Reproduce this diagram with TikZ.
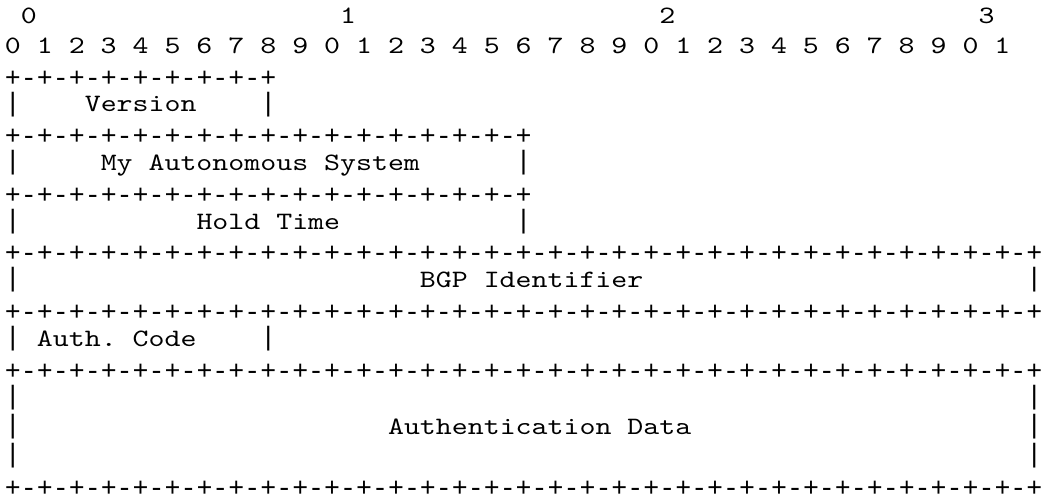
\documentclass[tikz,border=0pt]{standalone}
\usepackage{fontspec}
\setmonofont{Liberation Mono}
\newfontfamily\courlike{lmmono10-regular.otf}[FakeStretch=1.216]
\newcommand\gline[5][txt]{\node[#1] (#2) at ({5+15.96*#3},{24+29.3*(#4-1)}) {#5};}
\begin{document}
\begin{tikzpicture}[x=1pt,y=-1pt,
  base/.style={anchor=base west, inner sep=0pt, outer sep=0pt},
  txt/.style={base, font=\courlike\fontsize{25}{29}\selectfont},
  brd/.style={base, yshift=-3.5pt, font=\ttfamily\fontsize{26.6}{29}\selectfont},
  bar/.style={base, yshift=0.8pt, font=\ttfamily\fontsize{26.6}{29}\selectfont}]
\frenchspacing
\useasboundingbox (0,0) rectangle (1043,497);
% header
\gline{hA}{1}{1}{0}
\gline{hB}{21}{1}{1}
\gline{hC}{41}{1}{2}
\gline{hD}{61}{1}{3}
\gline{bits}{0}{2}{0 1 2 3 4 5 6 7 8 9 0 1 2 3 4 5 6 7 8 9 0 1 2 3 4 5 6 7 8 9 0 1}
% Version
\gline[brd]{b1}{0}{3}{+-+-+-+-+-+-+-+-+}
\gline[bar]{v1}{0}{4}{|}
\gline{ver}{5}{4}{Version}
\gline[bar]{v2}{16}{4}{|}
% My AS
\gline[brd]{b2}{0}{5}{+-+-+-+-+-+-+-+-+-+-+-+-+-+-+-+-+}
\gline[bar]{v3}{0}{6}{|}
\gline{myas}{6}{6}{My Autonomous System}
\gline[bar]{v4}{32}{6}{|}
% Hold time
\gline[brd]{b3}{0}{7}{+-+-+-+-+-+-+-+-+-+-+-+-+-+-+-+-+}
\gline[bar]{v5}{0}{8}{|}
\gline{hold}{12}{8}{Hold Time}
\gline[bar]{v6}{32}{8}{|}
% BGP Identifier
\gline[brd]{b4}{0}{9}{+-+-+-+-+-+-+-+-+-+-+-+-+-+-+-+-+-+-+-+-+-+-+-+-+-+-+-+-+-+-+-+-+}
\gline[bar]{v7}{0}{10}{|}
\gline{bgp}{26}{10}{BGP Identifier}
\gline[bar]{v8}{64}{10}{|}
% Auth code
\gline[brd]{b5}{0}{11}{+-+-+-+-+-+-+-+-+-+-+-+-+-+-+-+-+-+-+-+-+-+-+-+-+-+-+-+-+-+-+-+-+}
\gline[bar]{v9}{0}{12}{|}
\gline{auth}{2}{12}{Auth. Code}
\gline[bar]{v10}{16}{12}{|}
% Authentication data
\gline[brd]{b6}{0}{13}{+-+-+-+-+-+-+-+-+-+-+-+-+-+-+-+-+-+-+-+-+-+-+-+-+-+-+-+-+-+-+-+-+}
\gline[bar]{v11}{0}{14}{|}
\gline[bar]{v12}{64}{14}{|}
\gline[bar]{v13}{0}{15}{|}
\gline{adata}{24}{15}{Authentication Data}
\gline[bar]{v14}{64}{15}{|}
\gline[bar]{v15}{0}{16}{|}
\gline[bar]{v16}{64}{16}{|}
\gline[brd]{b7}{0}{17}{+-+-+-+-+-+-+-+-+-+-+-+-+-+-+-+-+-+-+-+-+-+-+-+-+-+-+-+-+-+-+-+-+}
\end{tikzpicture}
\end{document}
